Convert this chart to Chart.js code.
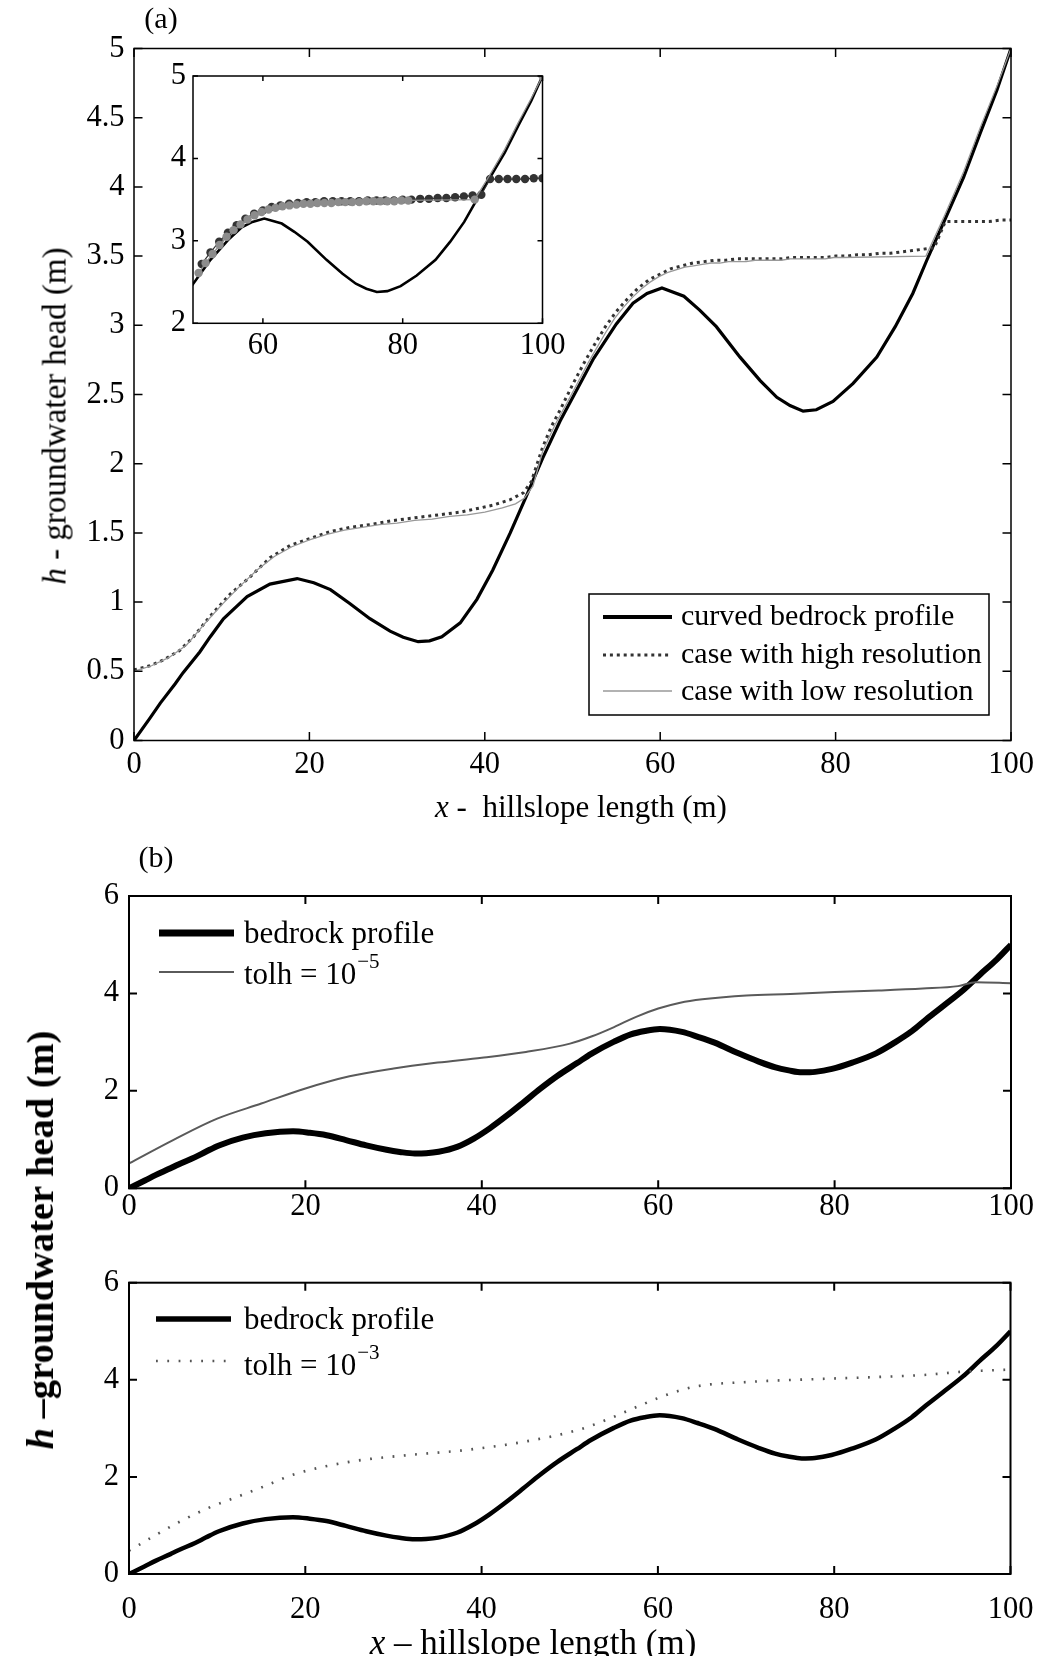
<!DOCTYPE html>
<html><head><meta charset="utf-8">
<script src="https://cdn.jsdelivr.net/npm/chart.js@4.4.1/dist/chart.umd.min.js"></script>
<style>
html,body{margin:0;padding:0;background:#fff;}
body{width:1040px;height:1656px;position:relative;overflow:hidden;font-family:"Liberation Serif","Times New Roman",serif;color:#000;}
canvas{position:absolute;left:0;top:0;}
.t{position:absolute;white-space:nowrap;transform:translate(-50%,-50%);line-height:normal;}
.r{transform:translate(-50%,-50%) rotate(-90deg);}
</style></head><body>
<canvas id="cA" width="1040" height="1656"></canvas>
<canvas id="cIn" width="1040" height="1656"></canvas>
<canvas id="cB1" width="1040" height="1656"></canvas>
<canvas id="cB2" width="1040" height="1656"></canvas>
<div class="t" style="left:161px;top:18px;font-size:30px">(a)</div>
<div class="t" style="left:581px;top:807px;font-size:31px"><i>x</i> -&nbsp; hillslope length (m)</div>
<div class="t r" style="left:55px;top:416px;font-size:33px"><i>h</i> - groundwater head (m)</div>
<div class="t" style="left:156px;top:857px;font-size:30px">(b)</div>
<div class="t r" style="left:40px;top:1240px;font-size:38.5px;font-weight:bold"><i>h</i> –groundwater head (m)</div>
<div class="t" style="left:533px;top:1643px;font-size:35px"><i>x</i> – hillslope length (m)</div>
<script>
// ---------- data ----------
const bedrockX = [0, 1.8, 3, 4.7, 5.6, 7.5, 8.7, 10.2, 12.9, 15.5, 18.6, 20.5, 22.4, 24.6, 26.9, 29.2, 30.7, 32.4, 33.7, 35.1, 37.2, 39.1, 40.9, 42.9, 44.7, 46.6, 48.6, 50.8, 52.4, 55.0, 56.9, 58.5, 60.2, 62.7, 64.5, 66.4, 69.1, 71.4, 73.3, 74.8, 76.3, 77.8, 79.7, 82.0, 84.7, 86.8, 88.8, 90.4, 92.3, 94.6, 96.5, 98.4, 100];
const bedrockH = [0, 0.16, 0.27, 0.41, 0.49, 0.64, 0.75, 0.88, 1.04, 1.13, 1.17, 1.14, 1.09, 0.99, 0.88, 0.79, 0.746, 0.714, 0.72, 0.75, 0.85, 1.02, 1.23, 1.50, 1.76, 2.04, 2.31, 2.57, 2.76, 3.01, 3.16, 3.23, 3.27, 3.21, 3.11, 2.99, 2.77, 2.60, 2.48, 2.42, 2.38, 2.39, 2.45, 2.58, 2.77, 2.99, 3.23, 3.47, 3.74, 4.07, 4.39, 4.70, 5.0];

const hiResX = [0, 1.8, 3.3, 5.2, 6.8, 8.7, 11, 13.2, 15.5, 17.8, 20.1, 22.4, 24.6, 26.9, 29.6, 33.4, 37.2, 40.9, 42.9, 44.4, 45.3, 46.6, 47.6, 48.6, 50, 51.25, 52.5, 53.75, 55, 56.25, 57.5, 58.75, 60, 61.25, 62.5, 63.75, 65, 66.25, 67.5, 68.75, 70, 71.25, 72.5, 73.75, 75, 76.25, 77.5, 78.75, 80, 81.25, 82.5, 83.75, 85, 86.25, 87.5, 88.75, 90, 91.25, 92.5, 93.75, 95, 96.25, 97.5, 98.75, 100];
const hiResH = [0.51, 0.54, 0.58, 0.65, 0.75, 0.90, 1.06, 1.18, 1.32, 1.41, 1.46, 1.51, 1.54, 1.56, 1.59, 1.62, 1.65, 1.70, 1.74, 1.79, 1.87, 2.12, 2.27, 2.39, 2.57, 2.72, 2.86, 2.99, 3.10, 3.19, 3.27, 3.33, 3.37, 3.41, 3.43, 3.45, 3.46, 3.47, 3.47, 3.48, 3.48, 3.48, 3.48, 3.48, 3.49, 3.49, 3.49, 3.49, 3.50, 3.50, 3.51, 3.51, 3.52, 3.52, 3.53, 3.54, 3.55, 3.56, 3.75, 3.75, 3.75, 3.75, 3.75, 3.76, 3.76];

const loResX = [0, 2, 4, 6, 8, 10, 12, 14, 16, 18, 20, 22, 24, 26, 28, 30, 32, 34, 36, 38, 40, 42, 43.5, 44.5, 45.5, 46.6, 48, 49.8, 50.8, 51.8, 52.8, 53.8, 54.8, 55.8, 56.8, 57.8, 58.8, 59.8, 60.8, 61.8, 62.8, 63.8, 64.8, 65.8, 66.8, 67.8, 68.8, 69.8, 70.8, 71.8, 72.8, 73.8, 74.8, 75.8, 76.8, 77.8, 78.8, 79.8, 80.8, 90.3, 92.4, 94.6, 96.5, 98.4, 100];
const loResH = [0.50, 0.54, 0.60, 0.69, 0.84, 0.98, 1.11, 1.23, 1.33, 1.40, 1.45, 1.49, 1.52, 1.54, 1.56, 1.57, 1.59, 1.60, 1.62, 1.63, 1.65, 1.68, 1.71, 1.75, 1.84, 2.09, 2.28, 2.49, 2.61, 2.73, 2.84, 2.95, 3.05, 3.13, 3.20, 3.26, 3.31, 3.35, 3.38, 3.40, 3.42, 3.43, 3.44, 3.45, 3.45, 3.46, 3.46, 3.46, 3.47, 3.47, 3.47, 3.47, 3.48, 3.48, 3.48, 3.48, 3.48, 3.49, 3.49, 3.50, 3.79, 4.11, 4.43, 4.73, 5.0];

const tolh5X = [0, 5, 10, 15, 20, 25, 30, 35, 40, 45, 50, 52.5, 55, 57.5, 60, 62.5, 65, 70, 75, 80, 85, 90, 94, 96, 100];
const tolh5H = [0.51, 0.99, 1.43, 1.74, 2.05, 2.30, 2.46, 2.58, 2.68, 2.80, 2.97, 3.12, 3.31, 3.52, 3.69, 3.81, 3.88, 3.96, 3.99, 4.03, 4.06, 4.10, 4.15, 4.23, 4.21];

const tolh3X = [0, 3, 6, 9, 12, 15, 18.7, 25, 31.7, 38, 44.7, 51, 54.5, 57.7, 61, 64.2, 70.7, 77.2, 83.7, 90.2, 94.8, 100];
const tolh3H = [0.48, 0.80, 1.10, 1.36, 1.57, 1.78, 2.05, 2.31, 2.45, 2.55, 2.72, 2.97, 3.2, 3.45, 3.69, 3.86, 3.96, 4.01, 4.05, 4.10, 4.17, 4.21];

const xTicks = [0, 20, 40, 60, 80, 100];
const xTickLabels = ['0', '20', '40', '60', '80', '100'];
const yTicksA = [0, 0.5, 1, 1.5, 2, 2.5, 3, 3.5, 4, 4.5, 5];
const yTickLabelsA = ['0', '0.5', '1', '1.5', '2', '2.5', '3', '3.5', '4', '4.5', '5'];
const xTicksInset = [60, 80, 100];
const xTickLabelsInset = ['60', '80', '100'];
const yTicksInset = [2, 3, 4, 5];
const yTickLabelsInset = ['2', '3', '4', '5'];
const yTicksB = [0, 2, 4, 6];
const yTickLabelsB = ['0', '2', '4', '6'];

const legendA = ['curved bedrock profile', 'case with high resolution', 'case with low resolution'];
const legendB1 = ['bedrock profile', 'tolh = 10'];
const legendB2 = ['bedrock profile', 'tolh = 10'];
const supB1 = '\u22125';
const supB2 = '\u22123';

// ---------- helpers ----------
const FONT = '"Liberation Serif", "Times New Roman", serif';
Chart.defaults.font.family = FONT;
const W = 1040, H = 1656, XH = 80, TICKFS = 30.5;
const pts = (xs, ys) => xs.map((x, i) => ({x: x, y: ys[i]}));

function axis(pos, range, ticks, labels, pad, lh, fit) {
  return {
    type: 'linear', position: pos, min: range[0], max: range[1],
    afterBuildTicks: s => { s.ticks = ticks.map(v => ({value: v})); },
    afterFit: fit,
    grid: {display: false, drawTicks: false}, border: {display: false},
    ticks: {padding: pad, color: '#000', font: {size: TICKFS, family: FONT, lineHeight: lh}, autoSkip: false,
            maxRotation: 0, minRotation: 0, callback: (v, i) => labels[i]}
  };
}

function framePlugin(lw, len) {
  return {
    id: 'frame',
    afterDatasetsDraw(chart) {
      const {ctx, chartArea: a, scales} = chart;
      ctx.save();
      ctx.strokeStyle = '#000'; ctx.lineWidth = lw; ctx.setLineDash([]);
      ctx.beginPath();
      scales.x.ticks.forEach(t => {
        const p = scales.x.getPixelForValue(t.value);
        ctx.moveTo(p, a.bottom); ctx.lineTo(p, a.bottom - len);
        ctx.moveTo(p, a.top); ctx.lineTo(p, a.top + len);
      });
      scales.y.ticks.forEach(t => {
        const p = scales.y.getPixelForValue(t.value);
        ctx.moveTo(a.left, p); ctx.lineTo(a.left + len, p);
        ctx.moveTo(a.right, p); ctx.lineTo(a.right - len, p);
      });
      ctx.stroke();
      ctx.strokeRect(a.left, a.top, a.right - a.left, a.bottom - a.top);
      ctx.restore();
    }
  };
}

function legendPlugin(cfg) {
  return {
    id: 'legendBox',
    afterDraw(chart) {
      const ctx = chart.ctx;
      ctx.save();
      if (cfg.box) {
        const b = cfg.box;
        ctx.fillStyle = '#fff'; ctx.fillRect(b[0], b[1], b[2], b[3]);
        ctx.strokeStyle = '#000'; ctx.lineWidth = 1.5; ctx.strokeRect(b[0], b[1], b[2], b[3]);
      }
      cfg.items.forEach(it => {
        const ds = chart.data.datasets[it.ds];
        ctx.beginPath();
        ctx.strokeStyle = ds.borderColor;
        ctx.lineWidth = it.lw || ds.borderWidth;
        ctx.setLineDash(ds.borderDash || []);
        ctx.moveTo(cfg.x1, it.y); ctx.lineTo(cfg.x2, it.y); ctx.stroke();
        ctx.setLineDash([]);
        ctx.fillStyle = '#000'; ctx.textAlign = 'left'; ctx.textBaseline = 'middle';
        ctx.font = cfg.font;
        ctx.fillText(it.text, cfg.tx, it.ty);
        if (it.sup) {
          const w = ctx.measureText(it.text).width;
          ctx.font = cfg.supFont;
          ctx.fillText(it.sup, cfg.tx + w + 1, it.ty - cfg.supRise);
        }
      });
      ctx.restore();
    }
  };
}

// xOff: distance from plot bottom edge to the centre of the x tick labels
function makeChart(id, area, xr, yr, xt, xl, yt, yl, xOff, ypad, datasets, plugins) {
  const lh = (2 * xOff) / TICKFS;
  return new Chart(document.getElementById(id), {
    type: 'line',
    data: {datasets: datasets},
    options: {
      responsive: false, animation: false, devicePixelRatio: 1, events: [],
      layout: {padding: {left: 0, top: area.t, right: W - area.r, bottom: H - area.b - XH}},
      plugins: {legend: {display: false}, tooltip: {enabled: false}},
      elements: {point: {radius: 0}},
      scales: {
        x: axis('bottom', xr, xt, xl, 0, lh, s => { s.height = XH; }),
        y: axis('left', yr, yt, yl, ypad, 1.2, s => { s.width = area.l; })
      }
    },
    plugins: plugins
  });
}

// ---------- panel (a) ----------
const dsA = [
  {label: legendA[0], data: pts(bedrockX, bedrockH), borderColor: '#000', borderWidth: 3.2, tension: 0, order: 2, pointRadius: 0},
  {label: legendA[1], data: pts(hiResX, hiResH), borderColor: '#333', borderWidth: 3, borderDash: [3, 3.9], tension: 0, order: 1, pointRadius: 0},
  {label: legendA[2], data: pts(loResX, loResH), borderColor: '#999', borderWidth: 1.3, tension: 0, order: 0, pointRadius: 0}
];
makeChart('cA', {l: 134, r: 1011, t: 48.5, b: 740.5}, [0, 100], [0, 5],
  xTicks, xTickLabels, yTicksA, yTickLabelsA, 24.5, 9.5, dsA,
  [framePlugin(1.5, 8.5), legendPlugin({
    box: [589, 594, 400, 121], x1: 603, x2: 672, tx: 681, font: '30px ' + FONT,
    items: [{ds: 0, y: 617, ty: 617, text: legendA[0], lw: 4},
            {ds: 1, y: 655, ty: 655, text: legendA[1]},
            {ds: 2, y: 691, ty: 692, text: legendA[2]}]
  })]);

// ---------- inset ----------
const inHiX = hiResX.filter(x => x > 50), inHiH = hiResH.filter((h, i) => hiResX[i] > 50);
const inLoX = loResX.filter(x => x > 50), inLoH = loResH.filter((h, i) => loResX[i] > 50);
const inBX = bedrockX.filter(x => x >= 48), inBH = bedrockH.filter((h, i) => bedrockX[i] >= 48);
const dsIn = [
  {data: pts(inBX, inBH), borderColor: '#000', borderWidth: 2.6, order: 2, pointRadius: 0},
  {data: pts(inHiX, inHiH), borderColor: '#333', borderWidth: 1.2, order: 1, pointRadius: 4.2,
   pointBackgroundColor: '#333', pointBorderWidth: 0},
  {data: pts(inLoX, inLoH), borderColor: '#8c8c8c', borderWidth: 1.3, order: 0,
   pointRadius: c => (c.raw && c.raw.x > 90.3 && c.raw.x < 100) ? 0 : 4.2,
   pointBackgroundColor: '#8c8c8c', pointBorderWidth: 0}
];
makeChart('cIn', {l: 193, r: 542.5, t: 76, b: 323.3}, [50, 100], [2, 5],
  xTicksInset, xTickLabelsInset, yTicksInset, yTickLabelsInset, 22.5, 7, dsIn,
  [framePlugin(1.5, 5)]);

// ---------- panel (b) top ----------
const dsB1 = [
  {label: legendB1[0], data: pts(bedrockX, bedrockH), borderColor: '#000', borderWidth: 6, cubicInterpolationMode: 'monotone', order: 1, pointRadius: 0},
  {label: legendB1[1], data: pts(tolh5X, tolh5H), borderColor: '#5a5a5a', borderWidth: 2, cubicInterpolationMode: 'monotone', order: 0, pointRadius: 0}
];
makeChart('cB1', {l: 129, r: 1011, t: 896, b: 1188.3}, [0, 100], [0, 6],
  xTicks, xTickLabels, yTicksB, yTickLabelsB, 18.5, 10, dsB1,
  [framePlugin(2, 8), legendPlugin({
    x1: 159, x2: 234, tx: 244, font: '31px ' + FONT, supFont: '21px ' + FONT, supRise: 14,
    items: [{ds: 0, y: 933, ty: 935, text: legendB1[0], lw: 7},
            {ds: 1, y: 972, ty: 976, text: legendB1[1], sup: supB1}]
  })]);

// ---------- panel (b) bottom ----------
const dsB2 = [
  {label: legendB2[0], data: pts(bedrockX, bedrockH), borderColor: '#000', borderWidth: 4.5, cubicInterpolationMode: 'monotone', order: 1, pointRadius: 0},
  {label: legendB2[1], data: pts(tolh3X, tolh3H), borderColor: '#555', borderWidth: 2.6, borderDash: [1.8, 9.5], cubicInterpolationMode: 'monotone', order: 0, pointRadius: 0}
];
makeChart('cB2', {l: 129, r: 1010.5, t: 1282.7, b: 1574}, [0, 100], [0, 6],
  xTicks, xTickLabels, yTicksB, yTickLabelsB, 36, 10, dsB2,
  [framePlugin(2, 8), legendPlugin({
    x1: 156, x2: 231, tx: 244, font: '31px ' + FONT, supFont: '21px ' + FONT, supRise: 14,
    items: [{ds: 0, y: 1319, ty: 1321, text: legendB2[0], lw: 5.5},
            {ds: 1, y: 1361, ty: 1367, text: legendB2[1], sup: supB2}]
  })]);
</script>
</body></html>
